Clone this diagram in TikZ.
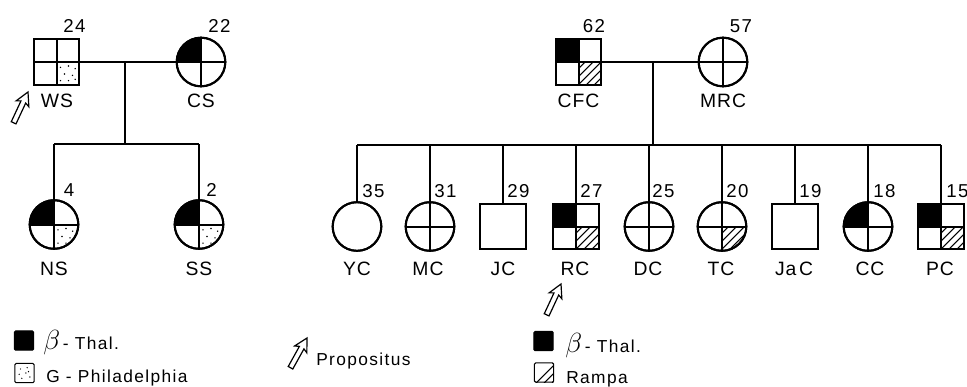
\documentclass[tikz,border=0pt]{standalone}
\usepackage{fontspec}
\setmainfont{Liberation Sans}
\usetikzlibrary{calc}
\tikzset{
  symb/.style={draw, line width=1.5pt, inner sep=0pt, outer sep=0pt, fill=white},
  msq/.style={symb, rectangle, minimum size=34pt},
  fci/.style={symb, circle, minimum size=36.5pt},
  symline/.style={line width=1.5pt},
  conn/.style={line width=1.2pt},
  lbl/.style={font=\fontsize{14.5}{15}\selectfont\addfontfeature{LetterSpace=5}, anchor=base, inner sep=0pt},
  num/.style={font=\fontsize{14}{15}\selectfont\addfontfeature{LetterSpace=8}, anchor=base, inner sep=0pt},
  numw/.style={num, anchor=base west},
  leg/.style={font=\fontsize{13}{14}\selectfont\addfontfeature{LetterSpace=8}, anchor=base west, inner sep=0pt},
  hatchln/.style={line width=0.8pt},
  legbox/.style={draw, line width=0.8pt, minimum size=14.5pt, inner sep=0pt, outer sep=0pt, rounded corners=1pt},
  propo/.style={fill=white, draw, line width=0.9pt, line join=miter},
}
\newcommand{\sqTL}[1]{\fill (#1.center) rectangle (#1.north west);}
\newcommand{\ciTL}[1]{\begin{scope}\clip (#1.center) circle[radius=18.25pt];
  \fill (#1.center) rectangle ++(-20pt,20pt);\end{scope}}
\newcommand{\hatchq}[1]{\foreach \k in {-15,-9,-3,3,9}
  \draw[hatchln] ([shift={(\k pt,-20pt)}]#1.center) -- ++(20pt,20pt);}
\newcommand{\sqBRh}[1]{\begin{scope}\clip (#1.center) rectangle (#1.south east);\hatchq{#1}\end{scope}}
\newcommand{\ciBRh}[1]{\begin{scope}\clip (#1.center) circle[radius=18.25pt];
  \clip (#1.center) rectangle ++(20pt,-20pt);\hatchq{#1}\end{scope}}
\newcommand{\dotq}[1]{\foreach \a/\b in {3/-4,9/-3,14/-5,6/-9,12/-10,3/-14,9/-14,14/-13}
  \fill ([shift={(\a pt,\b pt)}]#1.center) circle[radius=0.6pt];}
\newcommand{\sqBRd}[1]{\dotq{#1}}
\newcommand{\ciBRd}[1]{\begin{scope}\clip (#1.center) circle[radius=18.25pt];\dotq{#1}\end{scope}}
\newcommand{\sqX}[1]{\draw[symline] (#1.north west) rectangle (#1.south east);
  \draw[symline] (#1.north) -- (#1.south) (#1.west) -- (#1.east);}
\newcommand{\ciX}[1]{\draw[symline] (#1.center) circle[radius=18.25pt];
  \draw[symline] (#1.north) -- (#1.south) (#1.west) -- (#1.east);}
\newcommand{\propos}[3]{\begin{scope}[shift={(#1,#2)}, rotate=#3]
  \path[propo] (0,0) -- (-13,-7) -- (-11,-2.6) -- (-34,-2.6) -- (-34,2.6) -- (-11,2.6) -- (-13,7) -- cycle;
  \end{scope}}
\newcommand{\legbeta}{{\fontsize{20}{20}\selectfont$\beta$}}
\begin{document}
\begin{tikzpicture}[x=0.75pt, y=-0.75pt]
\useasboundingbox (0,0) rectangle (967,386);

% ---------- left family ----------
\node[msq] (WS) at (56.5,62) {};
\node[fci] (CS) at (201,62) {};
\node[fci] (NS) at (54,224.5) {};
\node[fci] (SS) at (199,224.5) {};
\coordinate (m1) at (125,62);
\coordinate (s1) at (125,144);
\draw[conn] (WS.east) -- (CS.west);
\draw[conn] (m1) -- (s1);
\draw[conn] (NS.north |- s1) -- (SS.north |- s1);
\draw[conn] (NS.north |- s1) -- (NS.north);
\draw[conn] (SS.north |- s1) -- (SS.north);

\sqBRd{WS} \sqX{WS}
\ciTL{CS} \ciX{CS}
\ciTL{NS} \ciBRd{NS} \ciX{NS}
\ciTL{SS} \ciBRd{SS} \ciX{SS}

\node[num] (nWS) at (74.5,32) {24};
\node[num] (nCS) at (219.5,32) {22};
\node[num] (nNS) at (69,196) {4};
\node[num] (nSS) at (211.5,196) {2};
\node[lbl] (tWS) at (57,107) {WS};
\node[lbl] (tCS) at (201,107) {CS};
\node[lbl] (tNS) at (54,275) {NS};
\node[lbl] (tSS) at (199,275) {SS};
\propos{28}{92}{65}

% ---------- right family ----------
\node[msq] (CFC) at (578.5,62) {};
\node[fci] (MRC) at (723,62) {};
\node[fci] (YC) at (357,226.5) {};
\node[fci] (MC) at (430,226.5) {};
\node[msq] (JC) at (503,226.5) {};
\node[msq] (RC) at (576,226.5) {};
\node[fci] (DC) at (649,226.5) {};
\node[fci] (TC) at (722,226.5) {};
\node[msq] (JaC) at (795,226.5) {};
\node[fci] (CC) at (868,226.5) {};
\node[msq] (PC) at (941,226.5) {};
\coordinate (m2) at (653,62);
\coordinate (s2) at (653,145);
\draw[conn] (CFC.east) -- (MRC.west);
\draw[conn] (m2) -- (s2);
\draw[conn] (YC.north |- s2) -- (PC.north |- s2);
\foreach \c in {YC,MC,JC,RC,DC,TC,JaC,CC,PC}
  \draw[conn] (\c.north |- s2) -- (\c.north);

\sqTL{CFC} \sqBRh{CFC} \sqX{CFC}
\ciX{MRC}
\draw[symline] (YC.center) circle[radius=18.25pt];
\ciX{MC}
\draw[symline] (JC.north west) rectangle (JC.south east);
\sqTL{RC} \sqBRh{RC} \sqX{RC}
\ciX{DC}
\ciBRh{TC} \ciX{TC}
\draw[symline] (JaC.north west) rectangle (JaC.south east);
\ciTL{CC} \ciX{CC}
\sqTL{PC} \sqBRh{PC} \sqX{PC}

\node[num] (nCFC) at (594,32) {62};
\node[num] (nMRC) at (741,32) {57};
\node[lbl] (tCFC) at (578.5,107) {CFC};
\node[lbl] (tMRC) at (723,107) {MRC};
\node[numw] (nYC) at (362,197) {35};
\node[numw] (nMC) at (434,197) {31};
\node[numw] (nJC) at (507,197) {29};
\node[numw] (nRC) at (580,197) {27};
\node[numw] (nDC) at (652,197) {25};
\node[numw] (nTC) at (726,197) {20};
\node[numw] (nJaC) at (799,197) {19};
\node[numw] (nCC) at (873,197) {18};
\node[numw] (nPC) at (946,197) {15};
\node[lbl] (tYC) at (357,275) {YC};
\node[lbl] (tMC) at (428,275) {MC};
\node[lbl] (tJC) at (503,275) {JC};
\node[lbl] (tRC) at (575,275) {RC};
\node[lbl] (tDC) at (648,275) {DC};
\node[lbl] (tTC) at (721,275) {TC};
\node[lbl] (tJaC) at (794,275) {Ja\hspace{2pt}C};
\node[lbl] (tCC) at (870,275) {CC};
\node[lbl] (tPC) at (940,275) {PC};
\propos{561}{284}{65}

% ---------- legends ----------
\node[legbox, fill=black] (lg1) at (24,340.5) {};
\node[leg] (lgt1) at (43,349) {\legbeta\,- Thal.};
\node[legbox] (lg2) at (24.5,373) {};
\foreach \a/\b in {-3/3,2/4,-4/-1,1/0,4/-3,-2/-4,3/1}
  \fill ([shift={(\a pt,\b pt)}]lg2.center) circle[radius=0.55pt];
\node[leg] (lgt2) at (46,382) {G - Philadelphia};
\propos{307}{338}{61}
\node[leg] (lgt3) at (316,365) {Propositus};

\node[legbox, fill=black] (lg3) at (543.5,341) {};
\node[leg] (lgt4) at (565,352) {\legbeta\,- Thal.};
\node[legbox] (lg4) at (544,372.5) {};
\begin{scope}
  \clip (lg4.south west) rectangle (lg4.north east);
  \foreach \k in {-6,0,6}
    \draw[hatchln] ([shift={(\k pt,-8pt)}]lg4.center) -- ++(16pt,16pt);
\end{scope}
\node[leg] (lgt5) at (566,383) {Rampa};
\end{tikzpicture}
\end{document}
